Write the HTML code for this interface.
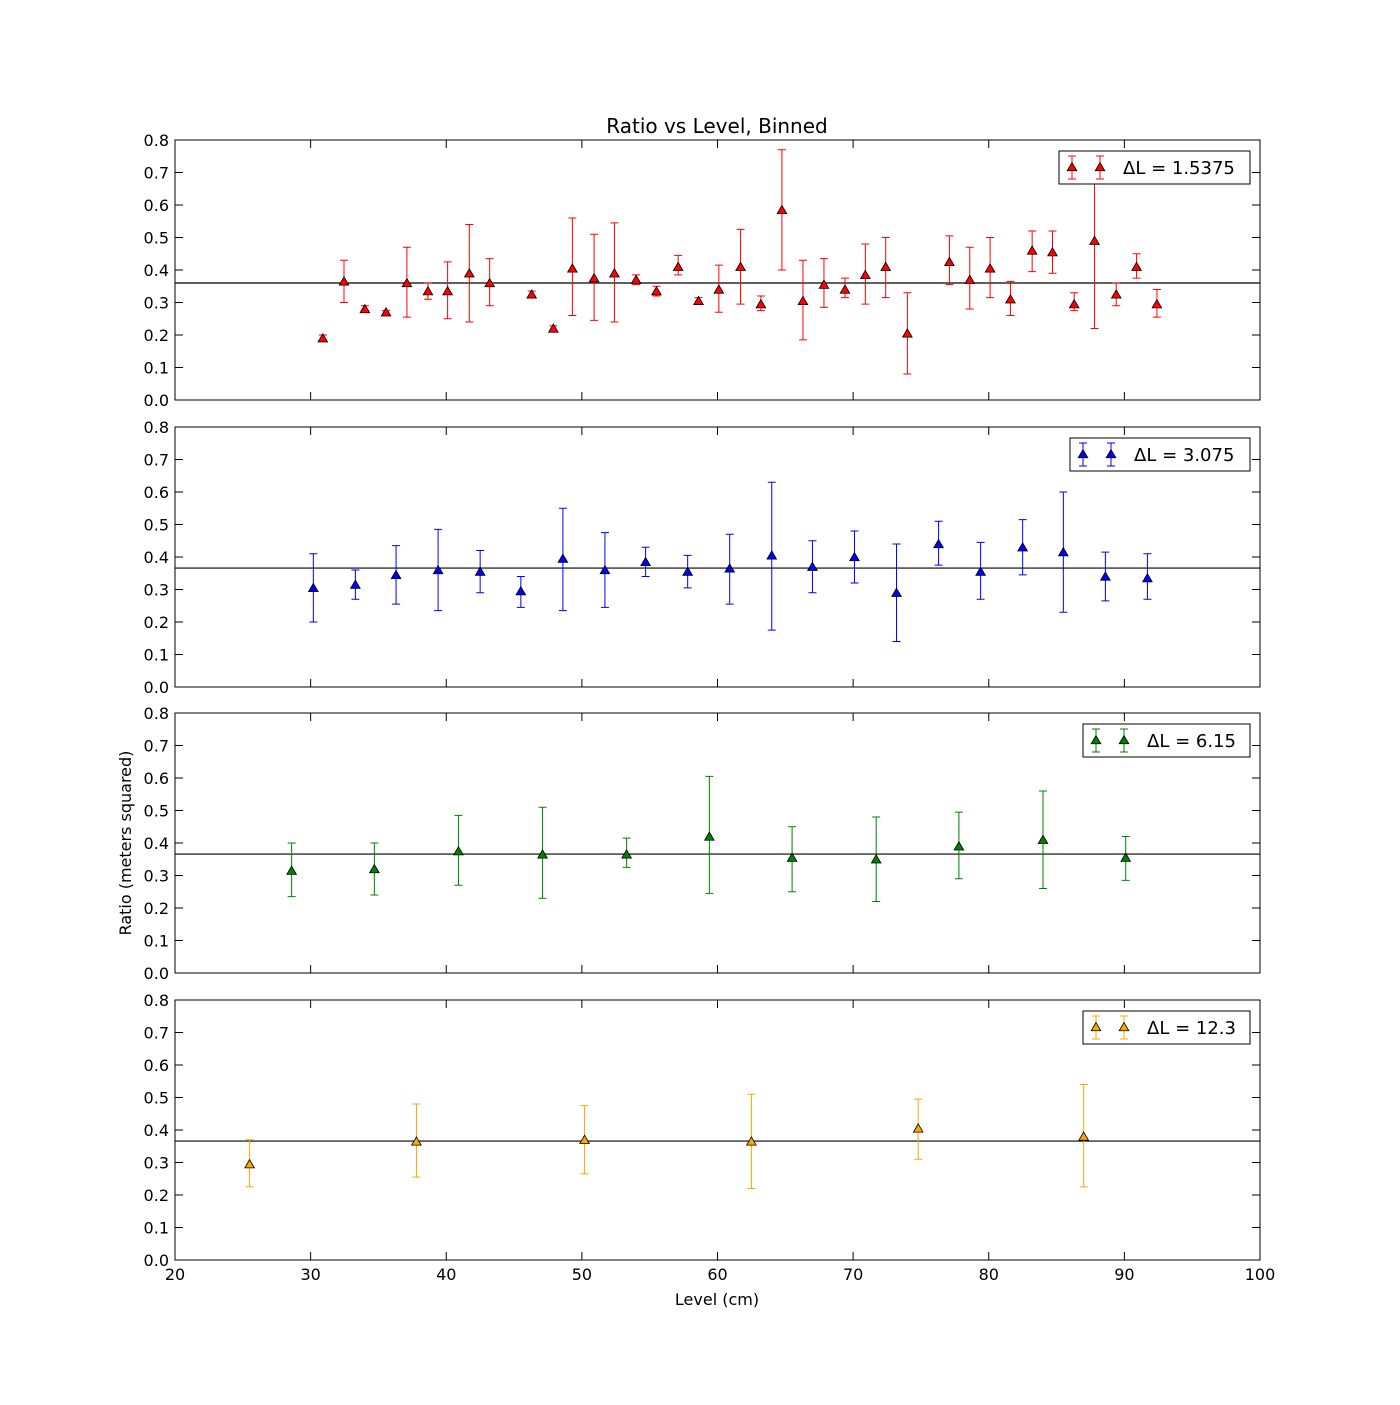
<!DOCTYPE html>
<html><head><meta charset="utf-8"><style>
html,body{margin:0;padding:0;background:#fff;}
svg text{font-family:"DejaVu Sans","Liberation Sans",sans-serif;}
</style></head><body>
<svg id="chart" width="1400" height="1400" xmlns="http://www.w3.org/2000/svg">
<rect width="1400" height="1400" fill="#fff"/>
<text x="717" y="133" font-size="20" text-anchor="middle">Ratio vs Level, Binned</text>
<text x="131" y="843" font-size="16" text-anchor="middle" transform="rotate(-90 131 843)">Ratio (meters squared)</text>
<text x="717" y="1305" font-size="16" text-anchor="middle">Level (cm)</text>
</svg>
<script>
const redX=[30.9,32.46,34.0,35.56,37.1,38.65,40.1,41.7,43.2,46.3,47.9,49.3,50.9,52.4,54.0,55.5,57.1,58.6,60.1,61.7,63.2,64.75,66.3,67.85,69.4,70.9,72.4,74.0,77.1,78.6,80.1,81.6,83.2,84.7,86.3,87.8,89.4,90.9,92.4];
const redY=[0.19,0.365,0.28,0.27,0.36,0.335,0.335,0.39,0.36,0.325,0.22,0.405,0.375,0.39,0.37,0.335,0.41,0.305,0.34,0.41,0.295,0.585,0.305,0.355,0.34,0.385,0.41,0.205,0.425,0.37,0.405,0.31,0.46,0.455,0.295,0.49,0.325,0.41,0.295];
const redLo=[0.185,0.30,0.275,0.265,0.255,0.31,0.25,0.24,0.29,0.315,0.215,0.26,0.245,0.24,0.355,0.32,0.385,0.30,0.27,0.295,0.275,0.40,0.185,0.285,0.315,0.295,0.315,0.08,0.355,0.28,0.315,0.26,0.395,0.39,0.275,0.22,0.29,0.375,0.255];
const redHi=[0.2,0.43,0.29,0.275,0.47,0.36,0.425,0.54,0.435,0.335,0.228,0.56,0.51,0.545,0.385,0.35,0.445,0.315,0.415,0.525,0.32,0.77,0.43,0.435,0.375,0.48,0.50,0.33,0.505,0.47,0.50,0.365,0.52,0.52,0.33,0.76,0.36,0.45,0.34];
const blueX=[30.2,33.3,36.3,39.4,42.5,45.5,48.6,51.7,54.7,57.8,60.9,64.0,67.0,70.1,73.2,76.3,79.4,82.5,85.5,88.6,91.7];
const blueY=[0.305,0.315,0.345,0.36,0.355,0.295,0.395,0.36,0.385,0.355,0.365,0.405,0.37,0.40,0.29,0.44,0.355,0.43,0.415,0.34,0.335];
const blueLo=[0.20,0.27,0.255,0.235,0.29,0.245,0.235,0.245,0.34,0.305,0.255,0.175,0.29,0.32,0.14,0.375,0.27,0.345,0.23,0.265,0.27];
const blueHi=[0.41,0.36,0.435,0.485,0.42,0.34,0.55,0.475,0.43,0.405,0.47,0.63,0.45,0.48,0.44,0.51,0.445,0.515,0.60,0.415,0.41];
const greenX=[28.6,34.7,40.9,47.1,53.3,59.4,65.5,71.7,77.8,84.0,90.1];
const greenY=[0.315,0.32,0.375,0.365,0.365,0.42,0.355,0.35,0.39,0.41,0.355];
const greenLo=[0.235,0.24,0.27,0.23,0.325,0.245,0.25,0.22,0.29,0.26,0.285];
const greenHi=[0.40,0.40,0.485,0.51,0.415,0.605,0.45,0.48,0.495,0.56,0.42];
const orangeX=[25.5,37.8,50.2,62.5,74.8,87.0];
const orangeY=[0.295,0.365,0.37,0.365,0.405,0.38];
const orangeLo=[0.225,0.255,0.265,0.22,0.31,0.225];
const orangeHi=[0.37,0.48,0.475,0.51,0.495,0.54];
const meanLines=[0.36,0.366,0.366,0.366];
const legendLabels=["1.5375","3.075","6.15","12.3"];
const xTicks=[20,30,40,50,60,70,80,90,100];
const yTicks=[0,0.1,0.2,0.3,0.4,0.5,0.6,0.7,0.8];

const NS="http://www.w3.org/2000/svg";
const svg=document.getElementById('chart');
const L=175,R=1260,H=260;
const tops=[140,427,713,1000];
const xs=v=>L+(v-20)/80*(R-L);
function mk(tag,attrs,parent){const e=document.createElementNS(NS,tag);for(const k in attrs)e.setAttribute(k,attrs[k]);(parent||svg).appendChild(e);return e;}
function tri(g,cx,cy,fill,s){return mk('polygon',{points:`${cx},${cy-s} ${cx-s*0.87},${cy+s*0.5} ${cx+s*0.87},${cy+s*0.5}`,fill:fill,stroke:'#000','stroke-width':0.8},g);}
const series=[
 {x:redX,y:redY,lo:redLo,hi:redHi,c:'#ff0000',n:'red'},
 {x:blueX,y:blueY,lo:blueLo,hi:blueHi,c:'#0000ff',n:'blue'},
 {x:greenX,y:greenY,lo:greenLo,hi:greenHi,c:'#008000',n:'green'},
 {x:orangeX,y:orangeY,lo:orangeLo,hi:orangeHi,c:'#ffa500',n:'orange'}];
series.forEach((s,i)=>{
 const T=tops[i],B=T+H;
 const ys=v=>B-v/0.8*H;
 const g=mk('g',{});
 
 
 const clip=mk('clipPath',{id:'c'+i},g);mk('rect',{x:L,y:T,width:R-L,height:H},clip);
 const dg=mk('g',{'clip-path':`url(#c${i})`},g);
 const ml=mk('line',{x1:L,x2:R,y1:ys(meanLines[i]),y2:ys(meanLines[i]),stroke:'#000','stroke-width':1.2},dg);
 
 
 s.x.forEach((xv,j)=>{
  const px=xs(xv);
  const eg=mk('g',{},dg);
  
  
  mk('line',{x1:px,x2:px,y1:ys(s.lo[j]),y2:ys(s.hi[j]),stroke:s.c,'stroke-width':1},eg);
  mk('line',{x1:px-4,x2:px+4,y1:ys(s.lo[j]),y2:ys(s.lo[j]),stroke:s.c,'stroke-width':1},eg);
  mk('line',{x1:px-4,x2:px+4,y1:ys(s.hi[j]),y2:ys(s.hi[j]),stroke:s.c,'stroke-width':1},eg);
  tri(eg,px,ys(s.y[j])+1,s.c,5.5);
 });
 const fr=mk('rect',{x:L,y:T,width:R-L,height:H,fill:'none',stroke:'#000','stroke-width':1},g);
 
 
 yTicks.forEach(t=>{
  const y=ys(t);
  mk('line',{x1:L,x2:L+8,y1:y,y2:y,stroke:'#000'},g);
  mk('line',{x1:R-8,x2:R,y1:y,y2:y,stroke:'#000'},g);
  const tx=mk('text',{x:L-6,y:y+6,'font-size':16,'text-anchor':'end'},g);
  tx.textContent=t.toFixed(1);
  
  
 });
 xTicks.forEach(t=>{
  const x=xs(t);
  mk('line',{x1:x,x2:x,y1:B-8,y2:B,stroke:'#000'},g);
  mk('line',{x1:x,x2:x,y1:T,y2:T+8,stroke:'#000'},g);
  if(i===3){const tx=mk('text',{x:x,y:B+20,'font-size':16,'text-anchor':'middle'},g);tx.textContent=t;
   
   }
 });
 const lw=[191,180,167,167][i];
 const lx=1250-lw,ly=T+11;
 const lg=mk('g',{},g);
 
 
 mk('rect',{x:lx,y:ly,width:lw,height:33,fill:'#fff',stroke:'#000','stroke-width':1},lg);
 [lx+13,lx+41].forEach(mx=>{
  mk('line',{x1:mx,x2:mx,y1:ly+5,y2:ly+28,stroke:s.c},lg);
  mk('line',{x1:mx-4,x2:mx+4,y1:ly+5,y2:ly+5,stroke:s.c},lg);
  mk('line',{x1:mx-4,x2:mx+4,y1:ly+28,y2:ly+28,stroke:s.c},lg);
  tri(lg,mx,ly+17,s.c,5.5);
 });
 const lt=mk('text',{x:lx+64,y:ly+23,'font-size':18},lg);
 lt.textContent='\u0394L = '+legendLabels[i];
 
 
});
</script>
</body></html>
